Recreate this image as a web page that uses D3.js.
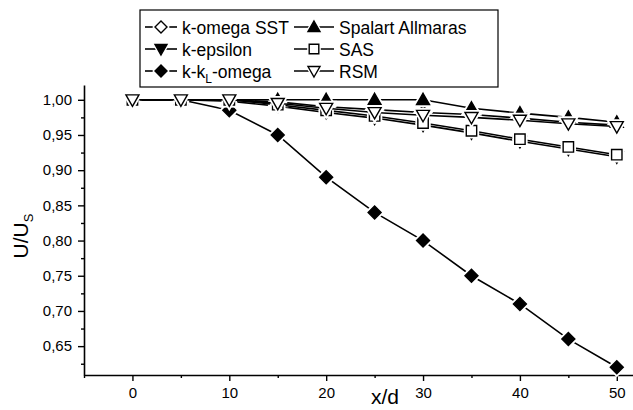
<!DOCTYPE html>
<html>
<head>
<meta charset="utf-8">
<script src="https://cdn.jsdelivr.net/npm/d3@7"></script>
<style>
  body { margin: 0; background: #fff; }
  text { font-family: "Liberation Sans", Arial, sans-serif; fill: #000; }
</style>
</head>
<body>
<svg id="canvas"></svg>
<script>
let svg = d3.select("#canvas");

svg.attr('width', 633)
    .attr('height', 410)

// values, x/d = 0..50
let xd = [0, 5, 10, 15, 20, 25, 30, 35, 40, 45, 50];
let kOmegaSST = [1.0, 1.0, 1.0, 0.997, 0.99, 0.986, 0.982, 0.979, 0.974, 0.968, 0.964];
let kEpsilon = [1.0, 1.0, 0.998, 0.991, 0.982, 0.974, 0.964, 0.953, 0.941, 0.930, 0.919];
let kKlOmega = [1.0, 1.0, 0.985, 0.95, 0.89, 0.84, 0.80, 0.75, 0.71, 0.66, 0.62];
let spalart = [1.0, 1.0, 1.0, 1.0, 1.0, 1.0, 1.0, 0.988, 0.981, 0.975, 0.968];
let sas = [1.0, 1.0, 1.0, 0.993, 0.985, 0.977, 0.967, 0.956, 0.944, 0.933, 0.922];
let rsm = [1.0, 1.0, 1.0, 0.995, 0.988, 0.982, 0.978, 0.975, 0.971, 0.966, 0.962];

let xMajor = [0, 10, 20, 30, 40, 50];
let xMinor = [-5, 5, 15, 25, 35, 45];
let yMajor = [0.65, 0.70, 0.75, 0.80, 0.85, 0.90, 0.95, 1.00];
let yMinor = [0.625, 0.675, 0.725, 0.775, 0.825, 0.875, 0.925, 0.975];

let series = [
  {name: 'k-omega SST', values: kOmegaSST, shape: 'diamond', filled: false},
  {name: 'k-epsilon', values: kEpsilon, shape: 'down', filled: true},
  {name: 'k-kL-omega', values: kKlOmega, shape: 'diamond', filled: true},
  {name: 'Spalart Allmaras', values: spalart, shape: 'up', filled: true},
  {name: 'SAS', values: sas, shape: 'square', filled: false},
  {name: 'RSM', values: rsm, shape: 'down', filled: false}
];

let x = d3.scaleLinear().domain([-5, 52.5]).range([84, 641]);
let y = d3.scaleLinear().domain([0.609, 1.021]).range([375, 85]);

// marker outlines, r = half size
function marker(shape, r) {
  if (shape === 'diamond') return `M0,${-r}L${r},0L0,${r}L${-r},0Z`;
  if (shape === 'square') { let s = r * 0.8; return `M${-s},${-s}H${s}V${s}H${-s}Z`; }
  if (shape === 'up') return `M0,${-r}L${r},${r * 0.75}L${-r},${r * 0.75}Z`;
  if (shape === 'down') return `M0,${r}L${r},${-r * 0.75}L${-r},${-r * 0.75}Z`;
}

let fmt = d => d3.format('.2f')(d).replace('.', ',');

// axes
let gx = svg.append('g').attr('transform', 'translate(0,375)');
gx.call(d3.axisBottom(x).tickValues(xMajor).tickSize(6).tickSizeOuter(0).tickPadding(6));
gx.append('g').call(d3.axisBottom(x).tickValues(xMinor).tickSize(3).tickFormat(''))
  .select('.domain').remove();

let gy = svg.append('g').attr('transform', 'translate(84,0)');
gy.call(d3.axisLeft(y).tickValues(yMajor).tickSize(6).tickSizeOuter(0).tickPadding(6).tickFormat(fmt));
gy.append('g').call(d3.axisLeft(y).tickValues(yMinor).tickSize(3).tickFormat(''))
  .select('.domain').remove();

svg.selectAll('.domain').attr('stroke-width', 1.6);
svg.selectAll('.tick line').attr('stroke-width', 1.4);
svg.selectAll('.tick text').style('font-size', '15px').style('font-family', '"Liberation Sans", Arial, sans-serif');

// series
let line = d3.line().x((d, i) => x(xd[i])).y(d => y(d));

series.forEach(s => {
  let g = svg.append('g');
  g.append('path')
    .attr('d', line(s.values))
    .attr('fill', 'none')
    .attr('stroke', '#000')
    .attr('stroke-width', 1.6);
  let pts = g.selectAll('g.pt')
    .data(s.values)
    .join('g')
    .attr('transform', (d, i) => `translate(${x(xd[i])},${y(d)})`);
  pts.append('path')
    .attr('d', marker(s.shape, 6.5))
    .attr('fill', '#fff')
    .attr('stroke', '#fff')
    .attr('stroke-width', 5);
  pts.append('path')
    .attr('d', marker(s.shape, 6.5))
    .attr('fill', s.filled ? '#000' : '#fff')
    .attr('stroke', '#000')
    .attr('stroke-width', 1.4);
});

// axis titles
svg.append('text')
  .attr('x', 385).attr('y', 404)
  .attr('text-anchor', 'middle')
  .style('font-size', '21px')
  .text('x/d');

let yl = svg.append('text')
  .attr('transform', 'translate(28,236) rotate(-90)')
  .attr('text-anchor', 'middle')
  .style('font-size', '21px');
yl.append('tspan').text('U/U');
yl.append('tspan').attr('dy', 5).style('font-size', '13px').text('S');

// legend
let legend = svg.append('g');
legend.append('rect')
  .attr('x', 140).attr('y', 10)
  .attr('width', 358).attr('height', 77)
  .attr('fill', '#fff')
  .attr('stroke', '#000')
  .attr('stroke-width', 1.2);

let legendOrder = [
  {s: series[0], col: 0, row: 0},
  {s: series[3], col: 1, row: 0},
  {s: series[1], col: 0, row: 1},
  {s: series[4], col: 1, row: 1},
  {s: series[2], col: 0, row: 2},
  {s: series[5], col: 1, row: 2}
];
let colX = [145, 294];
let colLen = [32, 40];
let rowY = [27, 49, 71];

legendOrder.forEach(e => {
  let lx = colX[e.col], ly = rowY[e.row], symLen = colLen[e.col];
  legend.append('line')
    .attr('x1', lx).attr('x2', lx + symLen)
    .attr('y1', ly).attr('y2', ly)
    .attr('stroke', '#000').attr('stroke-width', 1.6);
  legend.append('path')
    .attr('transform', `translate(${lx + symLen / 2},${ly})`)
    .attr('d', marker(e.s.shape, 6))
    .attr('fill', '#fff').attr('stroke', '#fff').attr('stroke-width', 4);
  legend.append('path')
    .attr('transform', `translate(${lx + symLen / 2},${ly})`)
    .attr('d', marker(e.s.shape, 6))
    .attr('fill', e.s.filled ? '#000' : '#fff')
    .attr('stroke', '#000').attr('stroke-width', 1.4);
  let t = legend.append('text')
    .attr('x', lx + symLen + 5).attr('y', ly + 7)
    .style('font-size', '17.5px');
  if (e.s.name === 'k-kL-omega') {
    t.append('tspan').text('k-k');
    t.append('tspan').attr('dy', 5).style('font-size', '12px').text('L');
    t.append('tspan').attr('dy', -5).text('-omega');
  } else {
    t.text(e.s.name);
  }
});
</script>
</body>
</html>
